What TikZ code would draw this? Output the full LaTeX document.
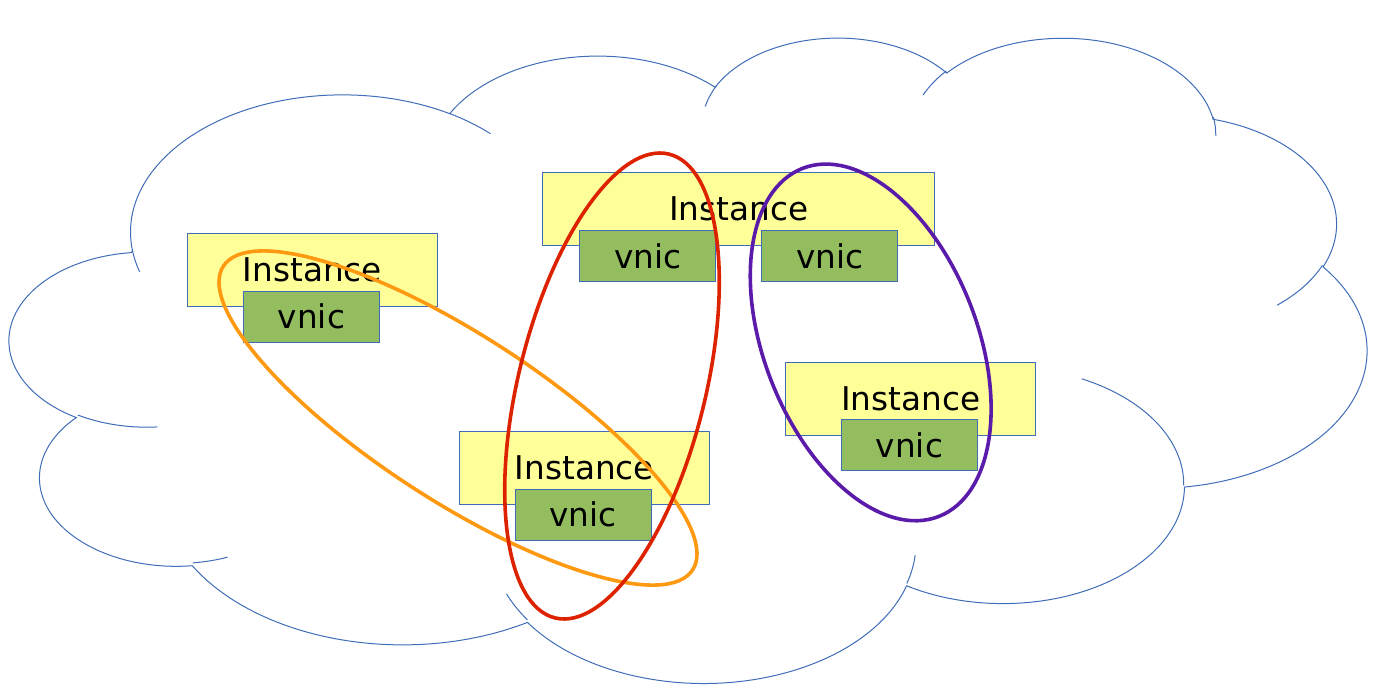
\documentclass[tikz,border=0pt]{standalone}
\usepackage{fontspec}
\setmainfont{DejaVu Sans}
\definecolor{edgeblue}{HTML}{3F6DB8}
\definecolor{instyellow}{HTML}{FFFF99}
\definecolor{vnicgreen}{HTML}{93BD5E}
\definecolor{ellorange}{HTML}{FF9911}
\definecolor{ellred}{HTML}{DD2200}
\definecolor{ellpurple}{HTML}{5A1AAA}
% DrawingML arcTo: wR, hR, start angle, sweep (visual angles, degrees)
\newcommand\ooarc[4]{arc[x radius=#1, y radius=#2,
  start angle={atan2(sin(#3)*(#1), cos(#3)*(#2))},
  delta angle={Mod(atan2(sin(#3+#4)*(#1), cos(#3+#4)*(#2))-atan2(sin(#3)*(#1), cos(#3)*(#2)),360)}]}
\begin{document}
\begin{tikzpicture}[x=1pt,y=-1pt,
  cloudline/.style={draw=edgeblue, line width=1pt},
  instbox/.style={draw=edgeblue, fill=instyellow, line width=1.2pt, inner sep=0pt,
    minimum width=250pt, minimum height=73pt, font=\fontsize{32.7}{39}\selectfont},
  vnicbox/.style={draw=edgeblue, fill=vnicgreen, line width=1.2pt, inner sep=0pt,
    minimum width=136pt, minimum height=51pt, font=\fontsize{32.7}{39}\selectfont},
  ring/.style={line width=3.6pt}]
\useasboundingbox (0,0) rectangle (1379,697);
% cloud
\begin{scope}[shift={(10,36)}, x=3.14pt, y=-1.4934pt]
\draw[cloudline] (39.00,143.70)
  \ooarc{67.53}{91.90}{-190.48748}{123.78053}
  \ooarc{53.33}{72.67}{-144.10238}{89.94523}
  \ooarc{43.65}{59.45}{-145.80792}{99.72302}
  \ooarc{48.57}{65.95}{-130.98607}{117.24173}
  \ooarc{53.33}{72.73}{-78.70888}{109.02692}
  \ooarc{67.75}{92.20}{-46.26725}{130.26900}
  \ooarc{57.85}{78.67}{0.62502}{114.03333}
  \ooarc{67.52}{92.15}{22.45160}{115.17255}
  \ooarc{77.20}{105.43}{66.24263}{75.71102}
  \ooarc{43.60}{59.18}{-274.94208}{146.73557}
  \ooarc{43.45}{59.45}{-246.82850}{152.51885}
  -- cycle;
\draw[cloudline] (46.93,261.77) \ooarc{43.45}{59.45}{86.74200}{26.42950};
\draw[cloudline] (69.28,348.99) \ooarc{43.60}{59.18}{73.61047}{11.44747};
\draw[cloudline] (164.78,390.90) \ooarc{67.52}{92.15}{137.62415}{14.08110};
\draw[cloudline] (288.27,347.51) \ooarc{67.52}{92.15}{6.45327}{15.99835};
\draw[cloudline] (341.29,229.54) \ooarc{57.85}{78.67}{-70.29235}{70.91737};
\draw[cloudline] (417.98,153.54) \ooarc{53.33}{72.73}{30.31803}{27.75150};
\draw[cloudline] (383.24,54.26) \ooarc{48.57}{65.95}{-13.74433}{14.85890};
\draw[cloudline] (290.78,39.52) \ooarc{48.57}{65.95}{-149.18145}{18.19537};
\draw[cloudline] (221.41,47.20) \ooarc{43.65}{59.45}{-163.49427}{17.68635};
\draw[cloudline] (140.00,51.92) \ooarc{67.53}{91.90}{-66.70695}{12.31935};
\draw[cloudline] (41.27,157.89) \ooarc{67.53}{91.90}{157.65435}{11.85817};
\end{scope}
% instances
\node[instbox] (i1) at (312.5,270) {Instance};
\node[vnicbox] (v1) at (311.4,316.7) {vnic};
\node[instbox, minimum width=392pt] (i2) at (738.6,209.3) {Instance};
\node[vnicbox] (v2a) at (647.6,256) {vnic};
\node[vnicbox] (v2b) at (829.8,256) {vnic};
\node[instbox] (i3) at (584.5,467.7) {Instance};
\node[vnicbox] (v3) at (583.2,514.6) {vnic};
\node[instbox] (i4) at (910.8,398.9) {Instance};
\node[vnicbox] (v4) at (909.4,445) {vnic};
% groups
\draw[ring, draw=ellorange, rotate around={-32.9:(458,418)}] (458,418) circle[x radius=279.5, y radius=83];
\draw[ring, draw=ellred, rotate around={76.2:(612,386)}] (612,386) circle[x radius=238.8, y radius=93.6];
\draw[ring, draw=ellpurple, rotate around={-68.6:(870.7,342.4)}] (870.7,342.4) circle[x radius=186.9, y radius=106.6];
\end{tikzpicture}
\end{document}
